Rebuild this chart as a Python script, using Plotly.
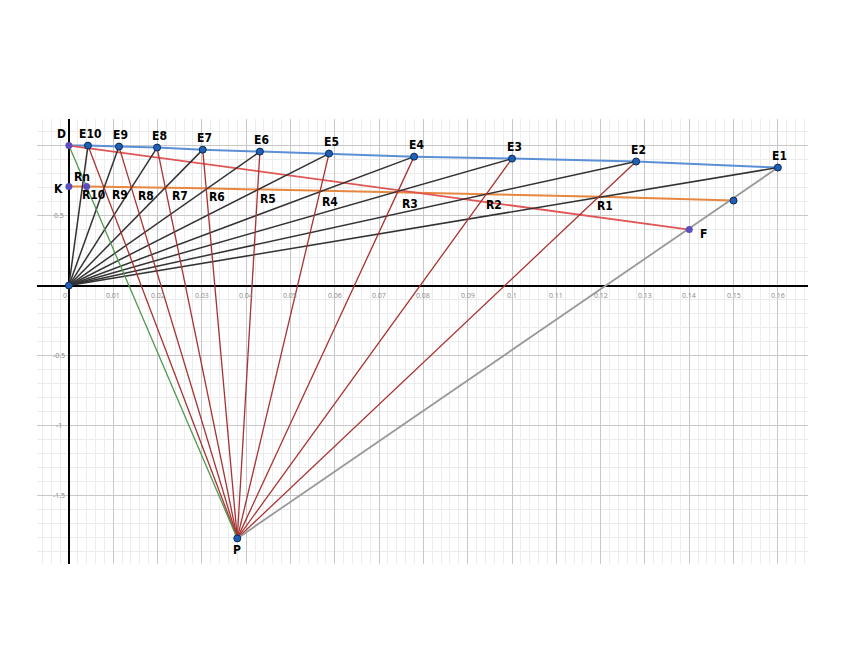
import plotly.graph_objects as go

ext_names = ["E1","E2","E3","E4","E5","E6","E7","E8","E9","E10"]
ext_x = [0.160,0.128,0.100,0.0779,0.0587,0.0431,0.0302,0.0199,0.0113,0.0043]
ext_y = [0.843,0.886,0.907,0.921,0.943,0.957,0.971,0.986,0.993,1.000]
raf_names = ["R1","R2","R3","R4","R5","R6","R7","R8","R9","R10"]
raf_label_x = [0.121,0.096,0.077,0.059,0.045,0.0335,0.025,0.0175,0.0115,0.0055]
raf_label_y = [0.565,0.575,0.585,0.595,0.62,0.63,0.64,0.64,0.65,0.65]
orange_x = [0.0, 0.004, 0.03, 0.06, 0.09, 0.12, 0.150]
orange_y = [0.707, 0.707, 0.695, 0.675, 0.655, 0.635, 0.607]
D = (0.0, 1.0); K = (0.0, 0.707); Rn = (0.004, 0.707)
F = (0.140, 0.40); P = (0.038, -1.807); O = (0.0, 0.0)
xticks = [0.01*i for i in range(1,17)]
yticks = [-1.5,-1,-0.5,0.5,1]

fig = go.Figure()
def seg(a, b, color, w=1.5):
    fig.add_trace(go.Scatter(x=[a[0],b[0]], y=[a[1],b[1]], mode="lines",
                             line=dict(color=color, width=w), hoverinfo="skip"))
fig.add_trace(go.Scatter(x=[D[0]]+ext_x[::-1], y=[D[1]]+ext_y[::-1], mode="lines",
                         line=dict(color="#5b8fd6", width=2), hoverinfo="skip"))
fig.add_trace(go.Scatter(x=orange_x, y=orange_y, mode="lines",
                         line=dict(color="#e8873f", width=2), hoverinfo="skip"))
seg(D, F, "#e05555", 1.8)
for x, y in zip(ext_x, ext_y):
    seg(O, (x, y), "#333333", 1.5)
for x, y in zip(ext_x[1:], ext_y[1:]):
    seg(P, (x, y), "#a83232", 1.3)
seg(D, P, "#4f9a4f", 1.3)
seg(P, (ext_x[0], ext_y[0]), "#999999", 1.8)

fig.add_trace(go.Scatter(x=ext_x+[O[0], P[0], orange_x[-1]], y=ext_y+[O[1], P[1], orange_y[-1]],
                         mode="markers", marker=dict(color="#1f5fb5", size=7, line=dict(color="#0b2a55", width=1)),
                         hoverinfo="skip"))
fig.add_trace(go.Scatter(x=[D[0],K[0],Rn[0],F[0]], y=[D[1],K[1],Rn[1],F[1]], mode="markers",
                         marker=dict(color="#5b4fc0", size=7), hoverinfo="skip"))

ann = []
def lab(x, y, t, xs=0, ys=0):
    ann.append(dict(x=x, y=y, text="<b>%s</b>" % t, showarrow=False, xshift=xs, yshift=ys,
                    font=dict(size=12, color="black", family="DejaVu Sans Condensed")))
for n, x, y in zip(ext_names, ext_x, ext_y):
    lab(x, y, n, 2, 12)
for n, x, y in zip(raf_names, raf_label_x, raf_label_y):
    lab(x, y, n)
lab(D[0], D[1], "D", -7, 12); lab(K[0], K[1], "K", -10, -2)
lab(Rn[0], Rn[1], "Rn", -5, 10); lab(F[0], F[1], "F", 14, -4); lab(P[0], P[1], "P", 0, -12)
for t in xticks:
    ann.append(dict(x=t, y=0, text="%g" % t, showarrow=False, yshift=-10,
                    font=dict(size=7, color="#888888")))
ann.append(dict(x=0, y=0, text="0", showarrow=False, xshift=-4, yshift=-10, font=dict(size=7, color="#888888")))
for t in yticks:
    if t == 1:
        continue
    ann.append(dict(x=0, y=t, text="%g" % t, showarrow=False, xshift=-10,
                    font=dict(size=7, color="#888888")))
fig.update_layout(annotations=ann, showlegend=False, width=848, height=655,
                  paper_bgcolor="white", plot_bgcolor="white",
                  margin=dict(l=29, r=48, t=111, b=99))
fig.update_xaxes(range=[-0.0072, 0.1668], dtick=0.01, showticklabels=False, gridcolor="#c8c8c8",
                 zeroline=True, zerolinecolor="black", zerolinewidth=2,
                 minor=dict(dtick=0.002, gridcolor="#ececec", showgrid=True))
fig.update_yaxes(range=[-1.99, 1.19], dtick=0.5, showticklabels=False, gridcolor="#c8c8c8",
                 zeroline=True, zerolinecolor="black", zerolinewidth=2,
                 minor=dict(dtick=0.1, gridcolor="#ececec", showgrid=True))
fig.write_html("out.html")
